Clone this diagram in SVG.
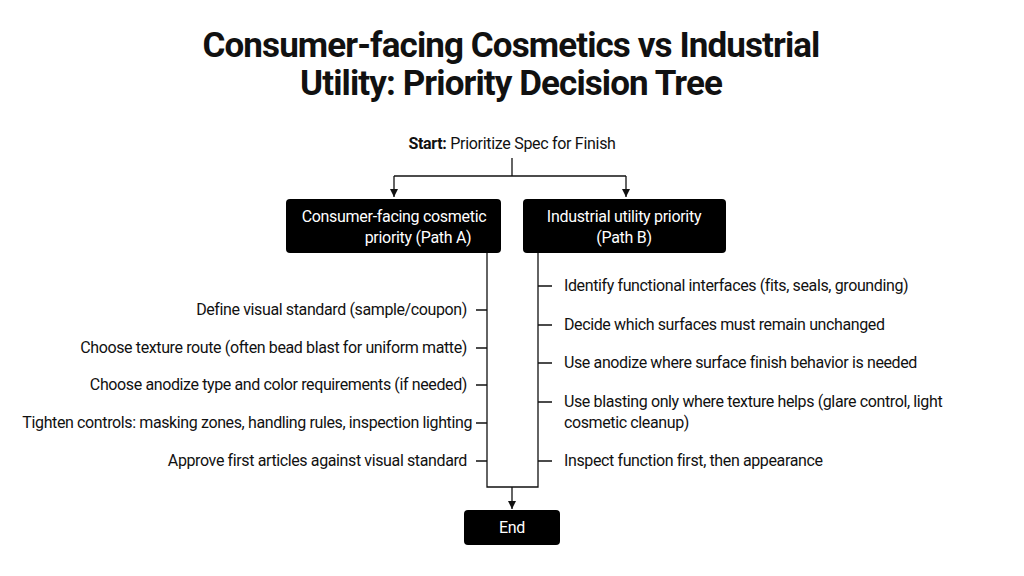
<svg xmlns="http://www.w3.org/2000/svg" width="1024" height="576" viewBox="0 0 1024 576">
<style>
.t{font-family:Roboto,"Liberation Sans",sans-serif;fill:#111}
.title{font-size:35px;font-weight:700;letter-spacing:-0.9px}
.lbl{font-size:16px;letter-spacing:-0.38px}
.box{fill:#000}
.bt{font-family:Roboto,"Liberation Sans",sans-serif;font-size:16px;fill:#fff;letter-spacing:-0.3px}
.ln{stroke:#111;stroke-width:1.3;fill:none}
</style>
<defs>
<marker id="ah" viewBox="0 0 10 10" refX="10" refY="5" markerWidth="8" markerHeight="8" markerUnits="userSpaceOnUse" orient="auto">
<path d="M0,0 L10,5 L0,10 z" fill="#111"/>
</marker>
</defs>
<rect width="1024" height="576" fill="#fff"/>
<g id="title">
<text class="t title" x="511" y="57" text-anchor="middle">Consumer-facing Cosmetics vs Industrial</text>
<text class="t title" x="511" y="95" text-anchor="middle">Utility: Priority Decision Tree</text>
</g>
<g id="connectors">
<path class="ln" d="M512,158 V176"/>
<path class="ln" d="M394,176 H626"/>
<path class="ln" d="M394,176 V197" marker-end="url(#ah)"/>
<path class="ln" d="M626,176 V197" marker-end="url(#ah)"/>
<path class="ln" d="M487,253 V487 H538 V253"/>
<path class="ln" d="M512,487 V509" marker-end="url(#ah)"/>
<path class="ln" d="M476,310 H487 M476,348 H487 M476,385 H487 M476,423 H487 M476,461 H487"/>
<path class="ln" d="M538,286 H552 M538,325 H552 M538,363 H552 M538,402 H552 M538,461 H552"/>
</g>
<g id="start">
<text class="t lbl" x="512" y="149" text-anchor="middle" style="letter-spacing:-0.3px"><tspan font-weight="700">Start:</tspan> Prioritize Spec for Finish</text>
</g>
<g id="pathA">
<rect class="box" x="286" y="199" width="215" height="54" rx="4"/>
<text class="bt" x="394" y="222" text-anchor="middle">Consumer-facing cosmetic</text>
<text class="bt" x="418" y="243" text-anchor="middle">priority (Path A)</text>
</g>
<g id="pathB">
<rect class="box" x="523" y="199" width="203" height="54" rx="4"/>
<text class="bt" x="624" y="222" text-anchor="middle">Industrial utility priority</text>
<text class="bt" x="624" y="243" text-anchor="middle">(Path B)</text>
</g>
<g id="stepsA">
<text class="t lbl" x="467" y="315" text-anchor="end">Define visual standard (sample/coupon)</text>
<text class="t lbl" x="467" y="353" text-anchor="end">Choose texture route (often bead blast for uniform matte)</text>
<text class="t lbl" x="467" y="390" text-anchor="end">Choose anodize type and color requirements (if needed)</text>
<text class="t lbl" x="472" y="428" text-anchor="end">Tighten controls: masking zones, handling rules, inspection lighting</text>
<text class="t lbl" x="467" y="466" text-anchor="end">Approve first articles against visual standard</text>
</g>
<g id="stepsB">
<text class="t lbl" x="564" y="291">Identify functional interfaces (fits, seals, grounding)</text>
<text class="t lbl" x="564" y="330">Decide which surfaces must remain unchanged</text>
<text class="t lbl" x="564" y="368">Use anodize where surface finish behavior is needed</text>
<text class="t lbl" x="564" y="407">Use blasting only where texture helps (glare control, light</text>
<text class="t lbl" x="564" y="428">cosmetic cleanup)</text>
<text class="t lbl" x="564" y="466">Inspect function first, then appearance</text>
</g>
<g id="end">
<rect class="box" x="464" y="510" width="96" height="35" rx="4"/>
<text class="bt" x="512" y="533" text-anchor="middle">End</text>
</g>
</svg>
